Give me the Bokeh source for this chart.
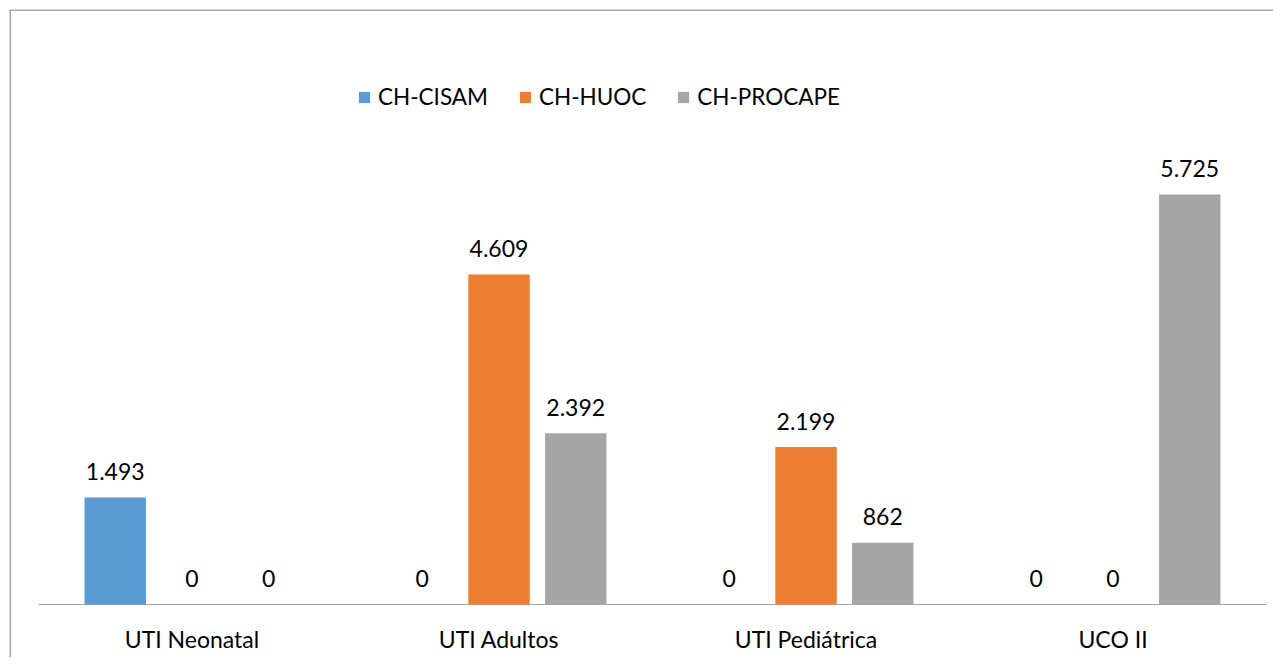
from bokeh.plotting import figure
from bokeh.models import ColumnDataSource, Range1d, Legend, LegendItem, Span
from bokeh.core.properties import value
from bokeh.embed import file_html
from bokeh.resources import INLINE

categories = ["UTI Neonatal", "UTI Adultos", "UTI Pediátrica", "UCO II"]
series_names = ["CH-CISAM", "CH-HUOC", "CH-PROCAPE"]
cisam = [1493, 0, 0, 0]
huoc = [0, 4609, 2199, 0]
procape = [0, 2392, 862, 5725]
colors = ["#5b9bd5", "#ed7d31", "#a5a5a5"]
offsets = [-0.25, 0.0, 0.25]

FONT = "Lato"
FS = "23px"

def fmt(v):
    return f"{v:,}".replace(",", ".")

# layout (pixels)
W, H = 1273, 657
FL, FT = 9, 9                 # frame left / top
AX_L, AX_R, AX_Y = 38, 1266, 604
PX_X = (AX_R - AX_L) / len(categories)
PX_Y = 410 / 5725
xs = -(AX_L - FL) / PX_X
xe = xs + (W - FL) / PX_X
ye = (AX_Y - FT) / PX_Y
ys = -(H - AX_Y) / PX_Y

p = figure(width=W, height=H, x_range=Range1d(xs, xe), y_range=Range1d(ys, ye),
           output_backend="svg", toolbar_location=None,
           min_border_left=FL, min_border_right=0, min_border_top=FT, min_border_bottom=0)
p.outline_line_color = None
p.xgrid.visible = False
p.ygrid.visible = False
p.xaxis.visible = False
p.yaxis.visible = False

# chart border (left & top visible)
p.add_layout(Span(location=xs + 0.6 / PX_X, dimension="height", line_color="#8c8c8c", line_width=1.5))
p.add_layout(Span(location=ye - 0.6 / PX_Y, dimension="width", line_color="#8c8c8c", line_width=1.5))

centers = [i + 0.5 for i in range(len(categories))]

# category axis line and labels
p.segment(x0=[0], y0=[0], x1=[len(categories)], y1=[0], line_color="#a6a6a6", line_width=1)
p.text(x=centers, y=[0] * len(categories), text=categories, text_align="center",
       text_baseline="middle", y_offset=34, text_font=value(FONT), text_font_size=FS,
       text_color="#000000")

items = []
for name, vals, col, off in zip(series_names, [cisam, huoc, procape], colors, offsets):
    src = ColumnDataSource(dict(x=[c + off for c in centers], v=vals, lab=[fmt(v) for v in vals]))
    r = p.vbar(x="x", top="v", width=0.2, source=src, fill_color=col, line_color=None)
    p.text(x="x", y="v", text="lab", source=src,
           text_align="center", text_baseline="middle", y_offset=-26,
           text_font=value(FONT), text_font_size=FS, text_color="#000000")
    items.append(LegendItem(label=name, renderers=[r]))

legend = Legend(items=items, orientation="horizontal", location=(348, 547),
                label_text_font=FONT, label_text_font_size="22.5px", label_text_color="#000000",
                glyph_width=14, glyph_height=14, label_standoff=7, spacing=30,
                padding=0, margin=0, border_line_color=None, background_fill_alpha=0)
p.add_layout(legend)

open("out.html", "w").write(file_html(p, INLINE))
